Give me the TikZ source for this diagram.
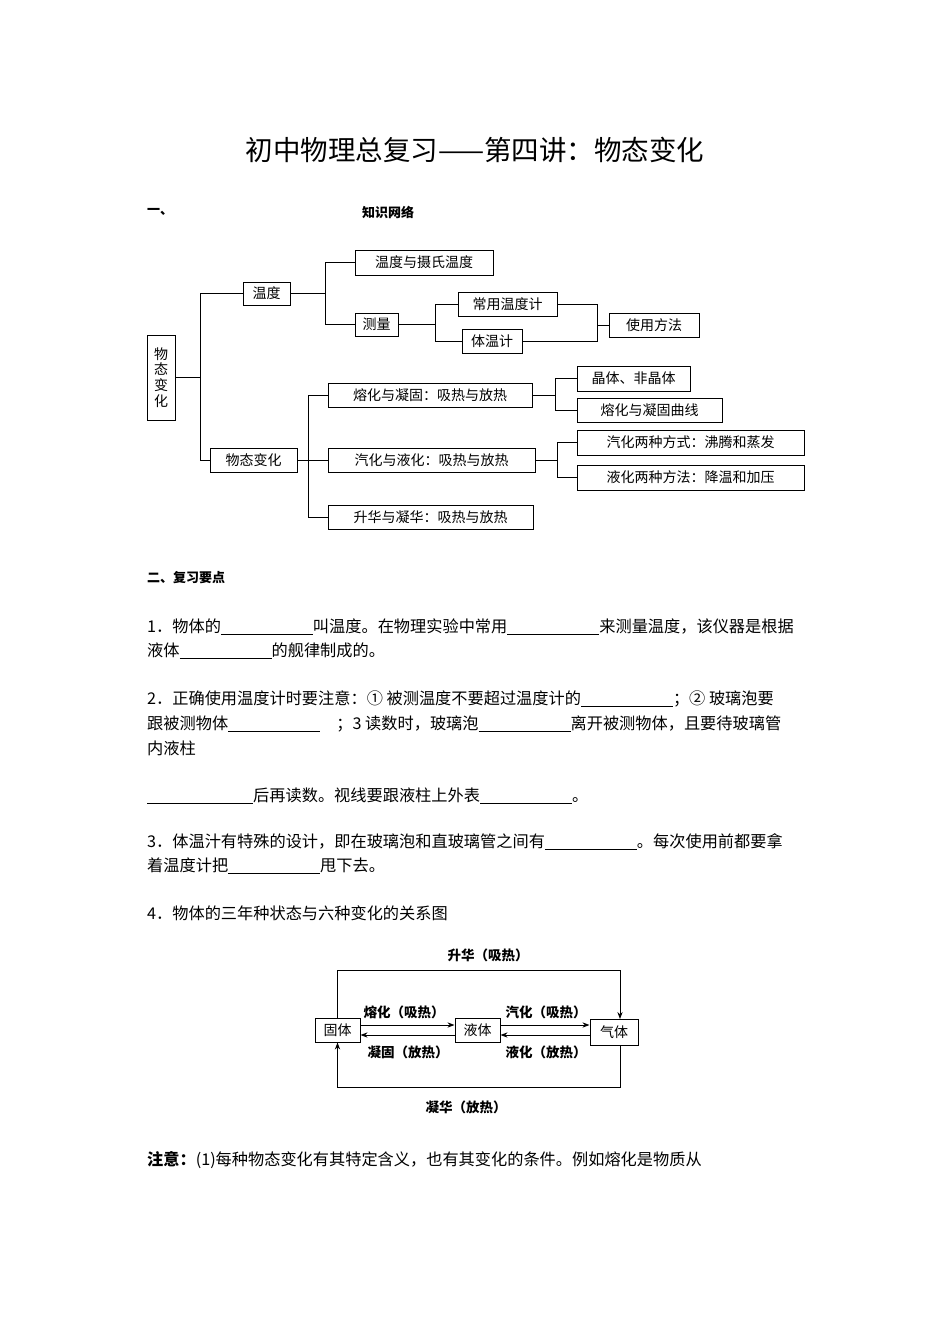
\documentclass[tikz,border=0pt]{standalone}
\usepackage{fontspec}
\setmainfont{Noto Sans CJK SC}
\usetikzlibrary{arrows.meta}
\newcommand{\bl}[1][92pt]{\rule[-2pt]{#1}{0.6pt}}
\tikzset{bx/.style={draw,line width=1pt,inner sep=0pt,font=\fontsize{14}{16}\selectfont},
ln/.style={line width=1pt},
tx/.style={anchor=west,inner sep=0pt,font=\fontsize{16.2}{18}\selectfont},
lb/.style={inner sep=0pt,font=\fontsize{13.5}{15}\selectfont\bfseries}}
\begin{document}
\begin{tikzpicture}[x=1pt,y=-1pt]
\useasboundingbox (0,0) rectangle (950,1344);
\node[inner sep=0pt,font=\fontsize{27.5}{30}\selectfont] (title) at (475,150) {初中物理总复习——第四讲：物态变化};
\node[tx,font=\fontsize{13}{15}\selectfont\bfseries] (s1) at (147,212) {一、};
\node[tx,font=\fontsize{13}{15}\selectfont\bfseries] (s1b) at (362,212) {知识网络};
% tree
\newcommand{\bxn}[5]{\node[bx,minimum width=#3-#1,minimum height=#4-#2] (#5) at ({(#1+#3)/2},{(#2+#4)/2})}
\bxn{147}{335}{175}{420}{root} {\shortstack{物\\态\\变\\化}};
\bxn{243}{282}{290}{305}{wd} {温度};
\bxn{210}{448}{297}{472}{wt} {物态变化};
\bxn{355}{250}{493}{275}{sh} {温度与摄氏温度};
\bxn{355}{313}{398}{336}{cl} {测量};
\bxn{458}{292}{557}{316}{cy} {常用温度计};
\bxn{462}{329}{522}{353}{tw} {体温计};
\bxn{609}{313}{699}{337}{sy} {使用方法};
\bxn{328}{383}{532}{407}{rh} {熔化与凝固：吸热与放热};
\bxn{328}{448}{535}{472}{qh} {汽化与液化：吸热与放热};
\bxn{328}{505}{533}{529}{sg} {升华与凝华：吸热与放热};
\bxn{577}{366}{690}{391}{jt} {晶体、非晶体};
\bxn{577}{398}{722}{422}{qx} {熔化与凝固曲线};
\bxn{577}{430}{804}{455}{fs} {汽化两种方式：沸腾和蒸发};
\bxn{577}{465}{804}{490}{ff} {液化两种方法：降温和加压};
\draw[ln] (root.east) -- ++(25,0) coordinate (r1);
\draw[ln] (wd.west) -| (r1) |- (wt.west);
\draw[ln] (wd.east) -- ++(35,0) coordinate (w1);
\draw[ln] (sh.west) -| (w1) |- (cl.west);
\draw[ln] (cl.east) -- ++(37,0) coordinate (c1);
\draw[ln] (cy.west) -| (c1) |- (tw.west);
\draw[ln] (sy.west) -- ++(-11,0) coordinate (u1);
\draw[ln] (cy.east) -| (u1) |- (tw.east);
\draw[ln] (wt.east) -- ++(11,0) coordinate (t1);
\draw[ln] (rh.west) -| (t1) |- (sg.west);
\draw[ln] (t1) -- (qh.west);
\draw[ln] (rh.east) -- ++(23,0) coordinate (h1);
\draw[ln] (jt.west) -| (h1) |- (qx.west);
\draw[ln] (qh.east) -- ++(22,0) coordinate (q1);
\draw[ln] (fs.west) -| (q1) |- (ff.west);
% text
\node[tx,font=\fontsize{13}{15}\selectfont\bfseries] (s2) at (147,578) {二、复习要点};
\node[tx] (p1) at (147,627) {1．物体的\bl 叫温度。在物理实验中常用\bl 来测量温度，该仪器是根据};
\node[tx] (p1b) at (147,651) {液体\bl 的舰律制成的。};
\node[tx] (p2) at (147,699) {2．正确使用温度计时要注意：① 被测温度不要超过温度计的\bl ；② 玻璃泡要};
\node[tx] (p2b) at (147,724) {跟被测物体\bl\quad ；3 读数时，玻璃泡\bl 离开被测物体，且要待玻璃管};
\node[tx] (p2c) at (147,748) {内液柱};
\node[tx] (p2d) at (147,796) {\bl[106pt]后再读数。视线要跟液柱上外表\bl 。};
\node[tx] (p3) at (147,842) {3．体温汁有特殊的设计，即在玻璃泡和直玻璃管之间有\bl 。每次使用前都要拿};
\node[tx] (p3b) at (147,866) {着温度计把\bl 甩下去。};
\node[tx] (p4) at (147,913) {4．物体的三年种状态与六种变化的关系图};
\node[tx] (nt) at (147,1160) {\textbf{注意：}(1)每种物态变化有其特定含义，也有其变化的条件。例如熔化是物质从};
% state diagram
\bxn{315}{1018}{360}{1042}{gu} {固体};
\bxn{455}{1018}{500}{1042}{ye} {液体};
\bxn{590}{1019}{638}{1045}{qi} {气体};
\draw[ln,-{Stealth[length=7pt]}] (gu.north) |- (620,970) -- (620,1019);
\draw[ln,-{Stealth[length=7pt]}] (620,1045) |- (337.5,1087) -- (gu.south);
\draw[ln,-{Stealth[length=7pt]}] (gu.east |- 0,1025) -- (ye.west |- 0,1025);
\draw[ln,-{Stealth[length=7pt]}] (ye.west |- 0,1035) -- (gu.east |- 0,1035);
\draw[ln,-{Stealth[length=7pt]}] (ye.east |- 0,1025) -- (qi.west |- 0,1025);
\draw[ln,-{Stealth[length=7pt]}] (qi.west |- 0,1035) -- (ye.east |- 0,1035);
\node[lb] (l1) at (488,955) {升华（吸热）};
\node[lb] (l2) at (404,1012) {熔化（吸热）};
\node[lb] (l3) at (546,1012) {汽化（吸热）};
\node[lb] (l4) at (408,1052) {凝固（放热）};
\node[lb] (l5) at (546,1052) {液化（放热）};
\node[lb] (l6) at (466,1107) {凝华（放热）};
\end{tikzpicture}
\end{document}
